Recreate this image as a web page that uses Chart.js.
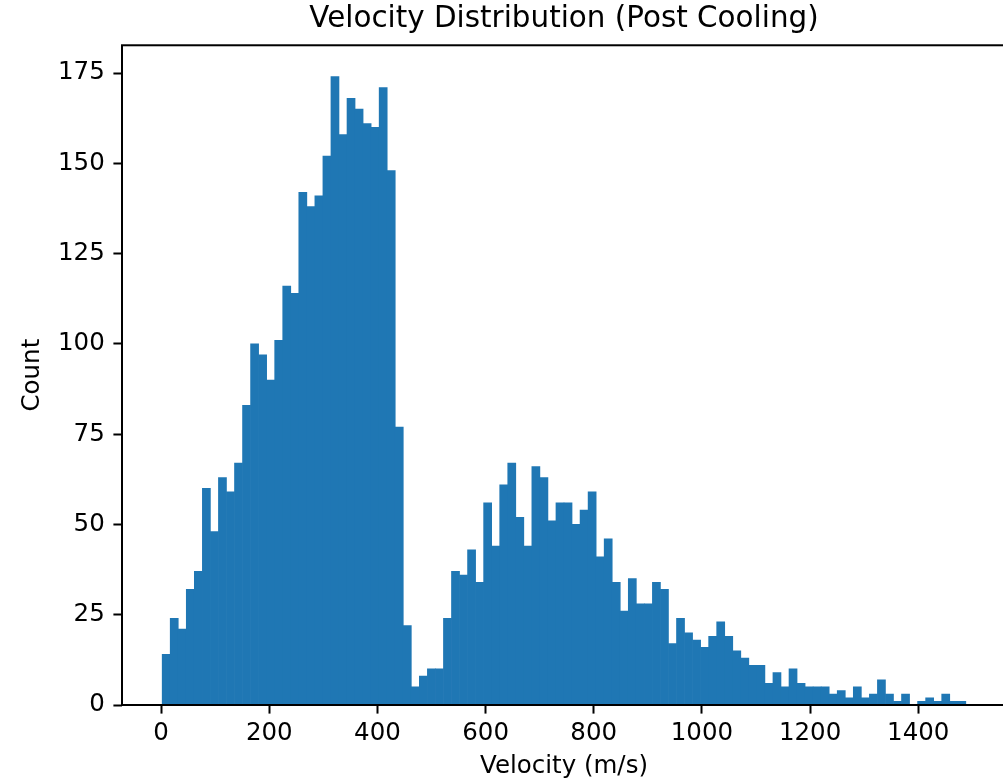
<!DOCTYPE html>
<html>
<head>
<meta charset="utf-8">
<script src="https://cdn.jsdelivr.net/npm/chart.js@4"></script>
<style>
  html, body { margin: 0; padding: 0; background: #fff; overflow: hidden; }
  #wrap { width: 1003px; height: 781px; overflow: hidden; }
</style>
</head>
<body>
<div id="wrap"><canvas id="hist" width="1010" height="781"></canvas></div>
<script>
// Histogram counts, 100 bins
const counts = [
    14, 24, 21, 32, 37, 60, 48, 63, 59, 67,
    83, 100, 97, 90, 101, 116, 114, 142, 138, 141,
    152, 174, 158, 168, 165, 161, 160, 171, 148, 77,
    22, 5, 8, 10, 10, 24, 37, 36, 43, 34,
    56, 44, 61, 67, 52, 44, 66, 63, 51, 56,
    56, 50, 54, 59, 41, 46, 34, 26, 35, 28,
    28, 34, 32, 17, 24, 20, 18, 16, 19, 23,
    19, 15, 13, 11, 11, 6, 9, 5, 10, 6,
    5, 5, 5, 3, 4, 2, 5, 2, 3, 7,
    3, 1, 3, 0, 1, 2, 1, 3, 1, 1
];
const binStart = 2;      // left edge of first bin (m/s)
const binWidth = 14.86;  // bin width (m/s)

const xTicks = [0, 200, 400, 600, 800, 1000, 1200, 1400];
const yTicks = [0, 25, 50, 75, 100, 125, 150, 175];

const titleText = 'Velocity Distribution (Post Cooling)';
const xLabel = 'Velocity (m/s)';
const yLabel = 'Count';

// bar centres from bin edges
const points = counts.map((c, i) => ({ x: binStart + (i + 0.5) * binWidth, y: c }));

const dataSpan = counts.length * binWidth;
const xMin = binStart - 0.05 * dataSpan;
const xMax = binStart + dataSpan + 0.05 * dataSpan;
const yMax = Math.max(...counts) * 1.05;

Chart.defaults.font.family = '"DejaVu Sans", sans-serif';
Chart.defaults.color = '#000';

// draw the four spines like matplotlib
const framePlugin = {
    id: 'frame',
    afterDatasetsDraw(chart) {
        const { ctx, chartArea: a } = chart;
        ctx.save();
        ctx.strokeStyle = '#000';
        ctx.lineWidth = 2;
        ctx.strokeRect(a.left, a.top, a.right - a.left, a.bottom - a.top);
        ctx.restore();
    }
};

const ctx = document.getElementById('hist').getContext('2d');
new Chart(ctx, {
    type: 'bar',
    data: {
        datasets: [{
            data: points,
            backgroundColor: '#1f77b4',
            borderWidth: 0,
            barPercentage: 1.0,
            categoryPercentage: 1.0
        }]
    },
    options: {
        responsive: false,
        animation: false,
        devicePixelRatio: 1,
        layout: { padding: { left: 0, right: 4, top: 0, bottom: 0 } },
        plugins: {
            legend: { display: false },
            tooltip: { enabled: false },
            title: {
                display: true,
                text: titleText,
                fullSize: false,
                color: '#000',
                font: { size: 29.4, weight: 'normal' },
                padding: { top: 2, bottom: 8 }
            }
        },
        scales: {
            x: {
                type: 'linear',
                min: xMin,
                max: xMax,
                offset: false,
                afterBuildTicks: scale => { scale.ticks = xTicks.map(v => ({ value: v })); },
                afterFit: scale => { scale.height = 76; },
                border: { display: false },
                grid: {
                    offset: false,
                    drawOnChartArea: false,
                    drawTicks: true,
                    tickLength: 8.6,
                    tickWidth: 2,
                    tickColor: '#000'
                },
                ticks: {
                    font: { size: 24.5 },
                    padding: 5,
                    maxRotation: 0,
                    autoSkip: false,
                    callback: v => String(v)
                },
                title: {
                    display: true,
                    text: xLabel,
                    font: { size: 24.5 },
                    padding: { top: 0, bottom: 0 }
                }
            },
            y: {
                min: 0,
                max: yMax,
                afterBuildTicks: scale => { scale.ticks = yTicks.map(v => ({ value: v })); },
                afterFit: scale => { scale.width = 122; },
                border: { display: false },
                grid: {
                    drawOnChartArea: false,
                    drawTicks: true,
                    tickLength: 8.6,
                    tickWidth: 2,
                    tickColor: '#000'
                },
                ticks: {
                    font: { size: 24.5 },
                    padding: 8.6,
                    autoSkip: false,
                    callback: v => String(v)
                },
                title: {
                    display: true,
                    text: yLabel,
                    font: { size: 24.5 },
                    padding: { top: 18, bottom: 0 }
                }
            }
        }
    },
    plugins: [framePlugin]
});
</script>
</body>
</html>
